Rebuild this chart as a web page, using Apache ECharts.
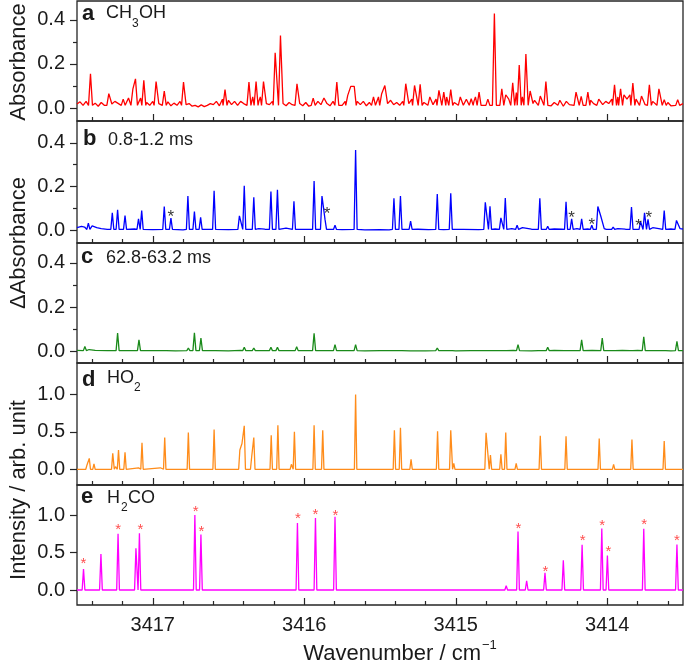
<!DOCTYPE html>
<html><head><meta charset="utf-8">
<script src="https://cdn.jsdelivr.net/npm/echarts@6/dist/echarts.min.js"></script>
<style>html,body{margin:0;padding:0;background:#fff}#c{width:685px;height:666px}</style>
</head><body><div id="c"></div>
<script>
// ---------- data ----------
const xMajorTicks = [3414, 3415, 3416, 3417];
const xMinorTicks = [3413.6, 3413.8, 3414.2, 3414.4, 3414.6, 3414.8, 3415.2, 3415.4, 3415.6, 3415.8, 3416.2, 3416.4, 3416.6, 3416.8, 3417.2, 3417.4];
const absMajorTicks = [0, 0.2, 0.4];
const absMinorTicks = [0.1, 0.3];
const intMajorTicks = [0, 0.5, 1.0];

// (a) CH3OH absorbance
const ch3ohPeaks = [[3417.411,0.155],[3417.290,0.065],[3417.195,0.04],[3417.131,0.087],[3417.114,0.132],[3417.059,0.125],[3416.978,0.12],[3416.924,0.077],[3416.797,0.117],[3416.523,0.083],[3416.365,0.117],[3416.318,0.12],[3416.269,0.12],[3416.192,0.25],[3416.157,0.328],[3416.048,0.11],[3415.941,0.045],[3415.785,0.117],[3415.713,0.057],[3415.693,0.098],[3415.670,0.098],[3415.543,0.05],[3415.489,0.065],[3415.468,0.102],[3415.330,0.11],[3415.272,0.102],[3415.235,0.107],[3415.171,0.05],[3415.111,0.08],[3415.079,0.072],[3415.033,0.084],[3414.970,0.05],[3414.898,0.042],[3414.846,0.072],[3414.788,0.04],[3414.745,0.428],[3414.696,0.087],[3414.624,0.114],[3414.581,0.195],[3414.537,0.245],[3414.509,0.077],[3414.442,0.054],[3414.405,0.12],[3414.313,0.035],[3414.206,0.072],[3414.172,0.053],[3414.128,0.072],[3414.056,0.04],[3413.952,0.105],[3413.912,0.087],[3413.831,0.113],[3413.774,0.054],[3413.722,0.105],[3413.659,0.087],[3413.624,0.038],[3413.535,0.038]];
const ch3ohBase = [[3417.50,0.018],[3417.48,0.028],[3417.46,0.012],[3417.44,0.03],[3417.43,0.01],[3417.38,0.022],[3417.36,0.008],[3417.34,0.025],[3417.32,0.012],[3417.27,0.018],[3417.25,0.03],[3417.22,0.015],[3417.20,0.035],[3417.18,0.02],[3417.16,0.045],[3417.14,0.06],[3417.09,0.03],[3417.08,0.045],[3417.04,0.025],[3417.02,0.012],[3417.00,0.03],[3416.96,0.02],[3416.94,0.04],[3416.92,0.015],[3416.90,0.028],[3416.88,0.01],[3416.86,0.022],[3416.84,0.012],[3416.82,0.03],[3416.78,0.015],[3416.76,0.02],[3416.74,0.008],[3416.72,0.012],[3416.70,0.005],[3416.68,0.014],[3416.66,0.006],[3416.64,0.012],[3416.62,0.02],[3416.60,0.015],[3416.58,0.03],[3416.56,0.01],[3416.54,0.04],[3416.50,0.035],[3416.48,0.015],[3416.46,0.03],[3416.44,0.012],[3416.42,0.03],[3416.40,0.02],[3416.38,0.04],[3416.35,0.02],[3416.34,0.05],[3416.30,0.03],[3416.29,0.05],[3416.25,0.02],[3416.23,0.015],[3416.21,0.03],[3416.14,0.02],[3416.12,0.01],[3416.10,0.025],[3416.08,0.015],[3416.03,0.02],[3416.01,0.01],[3415.99,0.025],[3415.97,0.008],[3415.95,0.02],[3415.93,0.01],[3415.91,0.03],[3415.89,0.015],[3415.87,0.045],[3415.85,0.02],[3415.83,0.01],[3415.81,0.03],[3415.80,0.015],[3415.77,0.03],[3415.75,0.012],[3415.73,0.03],[3415.65,0.03],[3415.63,0.015],[3415.61,0.03],[3415.59,0.01],[3415.57,0.025],[3415.55,0.04],[3415.53,0.02],[3415.51,0.05],[3415.45,0.02],[3415.43,0.035],[3415.41,0.015],[3415.39,0.025],[3415.37,0.012],[3415.35,0.03],[3415.31,0.02],[3415.29,0.04],[3415.25,0.06],[3415.21,0.025],[3415.19,0.01],[3415.15,0.015],[3415.13,0.04],[3415.09,0.03],[3415.06,0.05],[3415.05,0.02],[3415.01,0.025],[3414.99,0.015],[3414.95,0.012],[3414.93,0.04],[3414.91,0.015],[3414.88,0.03],[3414.87,0.05],[3414.83,0.03],[3414.81,0.01],[3414.77,0.008],[3414.73,0.02],[3414.71,0.05],[3414.68,0.03],[3414.67,0.06],[3414.65,0.04],[3414.60,0.07],[3414.56,0.05],[3414.52,0.04],[3414.49,0.02],[3414.48,0.035],[3414.46,0.015],[3414.42,0.01],[3414.39,0.02],[3414.37,0.01],[3414.35,0.025],[3414.33,0.012],[3414.29,0.008],[3414.27,0.03],[3414.25,0.015],[3414.23,0.02],[3414.19,0.015],[3414.15,0.01],[3414.11,0.035],[3414.09,0.02],[3414.07,0.01],[3414.04,0.025],[3414.03,0.015],[3414.01,0.03],[3413.99,0.02],[3413.97,0.04],[3413.93,0.05],[3413.89,0.06],[3413.87,0.04],[3413.85,0.06],[3413.81,0.04],[3413.79,0.02],[3413.76,0.035],[3413.75,0.015],[3413.70,0.03],[3413.68,0.012],[3413.64,0.03],[3413.60,0.025],[3413.58,0.01],[3413.56,0.02],[3413.52,0.01],[3413.50,0.02]];

// (b) 0.8-1.2 ms difference absorbance
const earlyPeaks = [[3417.425,0.033],[3417.267,0.08],[3417.232,0.094],[3417.183,0.068],[3417.094,0.053],[3417.073,0.09],[3416.924,0.109],[3416.880,0.056],[3416.768,0.157],[3416.725,0.086],[3416.684,0.059],[3416.595,0.181],[3416.428,0.066],[3416.396,0.204],[3416.333,0.151],[3416.220,0.177],[3416.177,0.186],[3416.068,0.133],[3415.935,0.225],[3415.883,0.157],[3415.863,0.05],[3415.797,0.023],[3415.661,0.367],[3415.408,0.147],[3415.365,0.157],[3415.298,0.042],[3415.122,0.166],[3415.033,0.169],[3414.805,0.128],[3414.774,0.11],[3414.702,0.057],[3414.673,0.148],[3414.595,0.023],[3414.445,0.147],[3414.393,0.018],[3414.272,0.131],[3414.235,0.053],[3414.169,0.053],[3414.102,0.023],[3414.062,0.109],[3414.042,0.063],[3413.996,0.012],[3413.961,0.015],[3413.840,0.106],[3413.780,0.04],[3413.754,0.08],[3413.731,0.05],[3413.624,0.09],[3413.543,0.045]];
const earlyBase = [[3417.50,0.012],[3417.47,0.018],[3417.45,0.015],[3417.40,0.02],[3417.37,0.012],[3417.34,0.008],[3417.30,0.004],[3417.20,0.005],[3417.12,0.006],[3417.00,0.003],[3416.90,0.004],[3416.80,0.002],[3416.64,0.004],[3416.50,0.003],[3416.45,0.006],[3416.30,0.008],[3416.26,0.005],[3416.12,0.01],[3416.00,0.004],[3415.90,0.008],[3415.82,0.006],[3415.75,0.003],[3415.60,0.002],[3415.50,0.003],[3415.44,0.002],[3415.33,0.004],[3415.25,0.005],[3415.18,0.003],[3415.08,0.003],[3414.95,0.004],[3414.85,0.003],[3414.74,0.006],[3414.63,0.008],[3414.56,0.012],[3414.50,0.005],[3414.35,0.006],[3414.30,0.005],[3414.20,0.008],[3414.13,0.006],[3414.02,0.008],[3413.93,0.008],[3413.88,0.005],[3413.80,0.012],[3413.70,0.012],[3413.66,0.008],[3413.58,0.006],[3413.52,0.008],[3413.50,0.006]];
const earlyStars = [[3416.880,0.083],[3415.849,0.098],[3414.235,0.079],[3414.102,0.045],[3413.794,0.042],[3413.725,0.076]];

// (c) 62.8-63.2 ms difference absorbance
const latePeaks = [[3417.448,0.022],[3417.232,0.082],[3417.180,0.012],[3417.137,0.012],[3417.091,0.052],[3416.921,0.01],[3416.765,0.015],[3416.725,0.084],[3416.682,0.06],[3416.595,0.01],[3416.396,0.018],[3416.333,0.015],[3416.220,0.018],[3416.177,0.018],[3416.050,0.02],[3415.935,0.081],[3415.878,0.012],[3415.797,0.03],[3415.661,0.03],[3415.408,0.012],[3415.365,0.012],[3415.122,0.015],[3415.033,0.012],[3414.805,0.01],[3414.673,0.012],[3414.589,0.03],[3414.445,0.012],[3414.393,0.018],[3414.272,0.01],[3414.169,0.052],[3414.033,0.06],[3413.996,0.008],[3413.840,0.012],[3413.759,0.066],[3413.624,0.01],[3413.540,0.045]];
const lateBase = [[3417.50,0.004],[3417.46,0.006],[3417.42,0.008],[3417.38,0.004],[3417.30,0.003],[3417.25,0.004],[3417.16,0.006],[3417.00,0.003],[3416.85,0.002],[3416.70,0.002],[3416.60,0.003],[3416.50,0.002],[3416.42,0.004],[3416.30,0.003],[3416.20,0.004],[3416.165,-0.008],[3416.10,0.003],[3416.00,0.003],[3415.90,0.004],[3415.75,0.003],[3415.60,0.002],[3415.50,0.003],[3415.30,0.002],[3415.20,0.002],[3415.00,0.002],[3414.90,0.003],[3414.75,0.003],[3414.62,0.004],[3414.50,0.002],[3414.35,0.004],[3414.20,0.003],[3414.10,0.004],[3413.95,0.003],[3413.90,0.004],[3413.80,0.004],[3413.70,0.003],[3413.58,0.002],[3413.50,0.003]];

// (d) HO2 simulated intensity
const ho2Peaks = [[3417.434,0.058],[3417.419,0.146],[3417.388,0.071],[3417.264,0.212],[3417.246,0.035],[3417.226,0.257],[3417.183,0.226],[3417.094,0.02],[3417.071,0.354],[3416.950,0.02],[3416.921,0.425],[3416.765,0.49],[3416.595,0.53],[3416.425,0.257],[3416.411,0.345],[3416.396,0.58],[3416.347,0.168],[3416.333,0.425],[3416.218,0.456],[3416.174,0.588],[3416.085,0.066],[3416.065,0.5],[3415.935,0.588],[3415.878,0.522],[3415.661,1.0],[3415.405,0.522],[3415.365,0.553],[3415.295,0.133],[3415.120,0.509],[3415.033,0.522],[3415.013,0.08],[3414.800,0.487],[3414.771,0.19],[3414.702,0.2],[3414.670,0.49],[3414.601,0.08],[3414.442,0.447],[3414.272,0.442],[3414.053,0.41],[3413.958,0.066],[3413.837,0.398],[3413.624,0.376]];
const ho2Base = [[3413.5,0],[3417.5,0]];

// (e) H2CO simulated intensity
const h2coPeaks = [[3417.457,0.278],[3417.342,0.48],[3417.229,0.75],[3417.111,0.555],[3417.088,0.758],[3416.722,1.0],[3416.682,0.74],[3416.045,0.894],[3415.926,0.96],[3415.797,0.978],[3415.085,0.005],[3414.947,0.008],[3414.803,0.026],[3414.667,0.057],[3414.589,0.78],[3414.532,0.123],[3414.411,0.229],[3414.290,0.396],[3414.166,0.604],[3414.036,0.82],[3413.999,0.458],[3413.759,0.815],[3413.540,0.608]];
const h2coBase = [[3413.5,0],[3417.5,0]];
const h2coStars = [[3417.457,0.396],[3417.229,0.85],[3417.082,0.85],[3416.716,1.09],[3416.679,0.83],[3416.042,0.996],[3415.927,1.057],[3415.794,1.048],[3414.587,0.872],[3414.408,0.295],[3414.163,0.705],[3414.033,0.903],[3413.993,0.56],[3413.757,0.916],[3413.540,0.705]];

// ---------- build ----------
function buildLine(base, peaks, halfW, floor) {
  const pts = [];
  base.forEach(p => { if (!peaks.some(q => Math.abs(q[0] - p[0]) < halfW * 1.3)) pts.push(p); });
  peaks.forEach((q, i) => {
    pts.push(q);
    [-halfW, halfW].forEach(d => {
      const sx = q[0] + d;
      if (!peaks.some((r, j) => j !== i && Math.abs(r[0] - sx) <= halfW + 1e-6)) pts.push([sx, floor]);
    });
  });
  pts.sort((a, b) => a[0] - b[0]);
  return pts;
}

const FF = '"Liberation Sans", Arial, sans-serif';
const TXT = '#1a1a1a';
const panels = [
  { top: 1,   height: 120, min: -0.059, max: 0.485, major: absMajorTicks, minor: absMinorTicks, color: '#ff0000', data: buildLine(ch3ohBase, ch3ohPeaks, 0.013, 0.012) },
  { top: 121, height: 122, min: -0.058, max: 0.5,   major: absMajorTicks, minor: absMinorTicks, color: '#0000ff', data: buildLine(earlyBase, earlyPeaks, 0.01, 0.004) },
  { top: 243, height: 120, min: -0.053, max: 0.49,  major: absMajorTicks, minor: absMinorTicks, color: '#1a8a1a', data: buildLine(lateBase, latePeaks, 0.01, 0.003) },
  { top: 363, height: 122, min: -0.21,  max: 1.42,  major: intMajorTicks, minor: [],            color: '#ff8c1a', data: buildLine(ho2Base, ho2Peaks, 0.008, 0) },
  { top: 485, height: 120, min: -0.2,   max: 1.4,   major: intMajorTicks, minor: [],            color: '#ff00ff', data: buildLine(h2coBase, h2coPeaks, 0.009, 0) }
];

const grid = [], xAxis = [], yAxis = [], series = [];
panels.forEach((p, i) => {
  grid.push({ left: 77, width: 606, top: p.top, height: p.height, show: true, borderColor: '#262626', borderWidth: 1.3, backgroundColor: 'transparent' });
  const xBase = { type: 'value', gridIndex: i, position: 'bottom', min: 3413.5, max: 3417.5, inverse: true, axisLine: { show: false, onZero: false }, splitLine: { show: false } };
  xAxis.push(Object.assign({}, xBase, {
    axisTick: { show: true, inside: true, length: 7, customValues: xMajorTicks, lineStyle: { color: '#262626', width: 1.2 } },
    axisLabel: { show: i === 4, customValues: xMajorTicks, formatter: v => String(Math.round(v)), fontSize: 20, color: TXT, margin: 10, fontFamily: FF }
  }));
  xAxis.push(Object.assign({}, xBase, {
    axisTick: { show: true, inside: true, length: 4, customValues: xMinorTicks, lineStyle: { color: '#262626', width: 1.2 } },
    axisLabel: { show: false }
  }));
  const yBase = { type: 'value', gridIndex: i, position: 'left', min: p.min, max: p.max, axisLine: { show: false, onZero: false }, splitLine: { show: false } };
  yAxis.push(Object.assign({}, yBase, {
    axisTick: { show: true, inside: false, length: 7, customValues: p.major, lineStyle: { color: '#262626', width: 1.2 } },
    axisLabel: { show: true, customValues: p.major, formatter: v => v.toFixed(1), fontSize: 20, color: TXT, margin: 12, fontFamily: FF }
  }));
  yAxis.push(Object.assign({}, yBase, {
    axisTick: { show: p.minor.length > 0, inside: false, length: 4, customValues: p.minor.length ? p.minor : [0], lineStyle: { color: '#262626', width: 1.2 } },
    axisLabel: { show: false }
  }));
  series.push({ type: 'line', xAxisIndex: 2 * i, yAxisIndex: 2 * i, data: p.data, symbol: 'none', showSymbol: false, lineStyle: { width: 1.3, color: p.color }, itemStyle: { color: p.color }, silent: true, animation: false, z: 3 });
});
series.push({ type: 'scatter', xAxisIndex: 2, yAxisIndex: 2, data: earlyStars, symbolSize: 1, itemStyle: { color: 'rgba(0,0,0,0)' }, silent: true, animation: false, z: 4,
  label: { show: true, position: 'inside', formatter: '*', fontSize: 17, color: '#000', offset: [0, 5], fontFamily: FF } });
series.push({ type: 'scatter', xAxisIndex: 8, yAxisIndex: 8, data: h2coStars, symbolSize: 1, itemStyle: { color: 'rgba(0,0,0,0)' }, silent: true, animation: false, z: 4,
  label: { show: true, position: 'inside', formatter: '*', fontSize: 15, color: '#ff2020', offset: [0, 4], fontFamily: FF } });

function t(text, x, y, size, opts) {
  return Object.assign({ type: 'text', x: x, y: y, silent: true, z: 10,
    style: Object.assign({ text: text, fill: TXT, font: size + 'px ' + FF, align: 'left', verticalAlign: 'middle' }, (opts && opts.style) || {}) }, (opts && opts.el) || {});
}
function bold(text, x, y) { return t(text, x, y, 22, { style: { font: 'bold 22px ' + FF } }); }

const graphic = [
  bold('a', 82, 14), t('CH', 106, 13.5, 18), t('3', 132, 23.5, 12), t('OH', 139, 13.5, 18),
  bold('b', 83, 139), t('0.8-1.2 ms', 108, 140.5, 18),
  bold('c', 81, 257), t('62.8-63.2 ms', 106, 258.5, 18),
  bold('d', 82, 380), t('HO', 107, 378.5, 18), t('2', 134, 388, 12),
  bold('e', 81, 497), t('H', 107, 498.5, 18), t('2', 121, 508, 12), t('CO', 128, 498.5, 18),
  t('Absorbance', 19, 62, 22, { style: { align: 'center' }, el: { rotation: Math.PI / 2 } }),
  t('\u0394Absorbance', 19, 243, 22, { style: { align: 'center' }, el: { rotation: Math.PI / 2 } }),
  t('Intensity / arb. unit', 19, 490, 22, { style: { align: 'center' }, el: { rotation: Math.PI / 2 } }),
  t('Wavenumber / cm', 481, 654, 22, { style: { align: 'right' } }),
  t('\u22121', 482, 645, 13)
];

const chart = echarts.init(document.getElementById('c'), null, { renderer: 'canvas' });
chart.setOption({ animation: false, backgroundColor: '#fff', grid, xAxis, yAxis, series, graphic });
</script>
</body></html>
